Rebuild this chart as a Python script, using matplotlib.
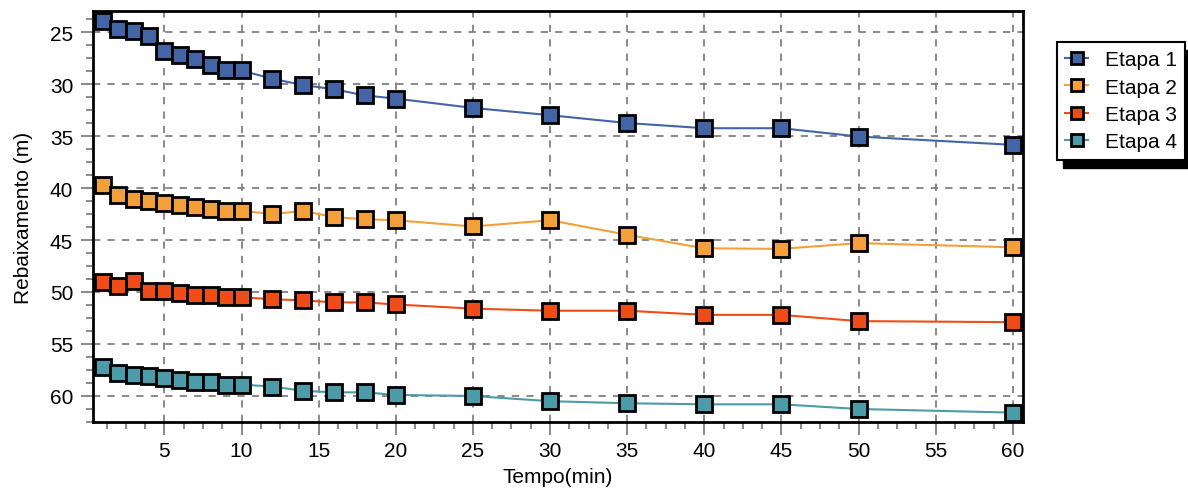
import matplotlib.pyplot as plt
from matplotlib.patches import Rectangle
from matplotlib.ticker import MultipleLocator

plt.rcParams['font.family'] = ['Liberation Sans', 'DejaVu Sans']

# tempo (min)
tempo = [1, 2, 3, 4, 5, 6, 7, 8, 9, 10, 12, 14, 16, 18, 20, 25, 30, 35, 40, 45, 50, 60]

# rebaixamento (m) por etapa
etapa1 = [23.9, 24.7, 24.9, 25.4, 26.8, 27.2, 27.6, 28.2, 28.7, 28.7, 29.5, 30.1,
          30.5, 31.1, 31.4, 32.3, 33.0, 33.75, 34.25, 34.25, 35.05, 35.85]
etapa2 = [39.7, 40.7, 41.05, 41.25, 41.4, 41.6, 41.85, 42.0, 42.2, 42.2, 42.5, 42.2,
          42.8, 43.0, 43.1, 43.7, 43.1, 44.5, 45.8, 45.85, 45.3, 45.7]
etapa3 = [49.05, 49.4, 48.9, 49.9, 49.9, 50.05, 50.3, 50.3, 50.5, 50.5, 50.7, 50.8,
          51.0, 51.0, 51.2, 51.6, 51.8, 51.8, 52.2, 52.2, 52.8, 52.9]
etapa4 = [57.25, 57.8, 58.0, 58.1, 58.3, 58.5, 58.7, 58.7, 58.9, 58.9, 59.1, 59.5,
          59.65, 59.65, 59.9, 60.0, 60.5, 60.7, 60.8, 60.8, 61.25, 61.6]

series = [('Etapa 1', etapa1, '#4365A5'),
          ('Etapa 2', etapa2, '#F3A03A'),
          ('Etapa 3', etapa3, '#F04C17'),
          ('Etapa 4', etapa4, '#4B9BA8')]

fig = plt.figure(figsize=(11.88, 4.89), dpi=100)
ax = fig.add_axes([0.078, 0.135, 0.783, 0.84])

for name, vals, col in series:
    ax.plot(tempo, vals, '-', color=col, lw=1.5, marker='s', ms=11,
            mfc=col, mec='black', mew=2, label=name, zorder=3)

ax.set_xlim(0.35, 60.65)
ax.set_ylim(62.5, 23.0)
ax.xaxis.set_major_locator(MultipleLocator(5))
ax.xaxis.set_minor_locator(MultipleLocator(1.25))
ax.yaxis.set_major_locator(MultipleLocator(5))
ax.yaxis.set_minor_locator(MultipleLocator(1.25))
ax.grid(True, which='major', color='#808080', ls=(0, (4, 4)), lw=1.3)
ax.tick_params(which='major', direction='out', length=9, width=1.3,
               color='#808080', labelsize=15, pad=5)
ax.tick_params(which='minor', direction='out', length=5, width=1.3, color='#808080')
for s in ax.spines.values():
    s.set_linewidth(2)
    s.set_color('black')

ax.set_xlabel('Tempo(min)', fontsize=15, labelpad=5)
ax.set_ylabel('Rebaixamento (m)', fontsize=15, labelpad=12)

leg = ax.legend(loc='upper left', bbox_to_anchor=(1057 / 1188, 1 - 43 / 489),
                bbox_transform=fig.transFigure, fontsize=15, frameon=True,
                fancybox=False, edgecolor='black', markerscale=0.85,
                handlelength=1.1, borderpad=0.4, labelspacing=0.4,
                handletextpad=0.8, borderaxespad=0, framealpha=1)
leg.get_frame().set_linewidth(1.5)

# black drop shadow behind the legend box
fig.canvas.draw()
bb = leg.get_window_extent().transformed(fig.transFigure.inverted())
shadow = Rectangle((bb.x0 + 6 / 1188, bb.y0 - 8 / 489), bb.width, bb.height,
                   transform=fig.transFigure, color='black', zorder=-1)
fig.patches.append(shadow)

fig.savefig('out.png', dpi=100)
